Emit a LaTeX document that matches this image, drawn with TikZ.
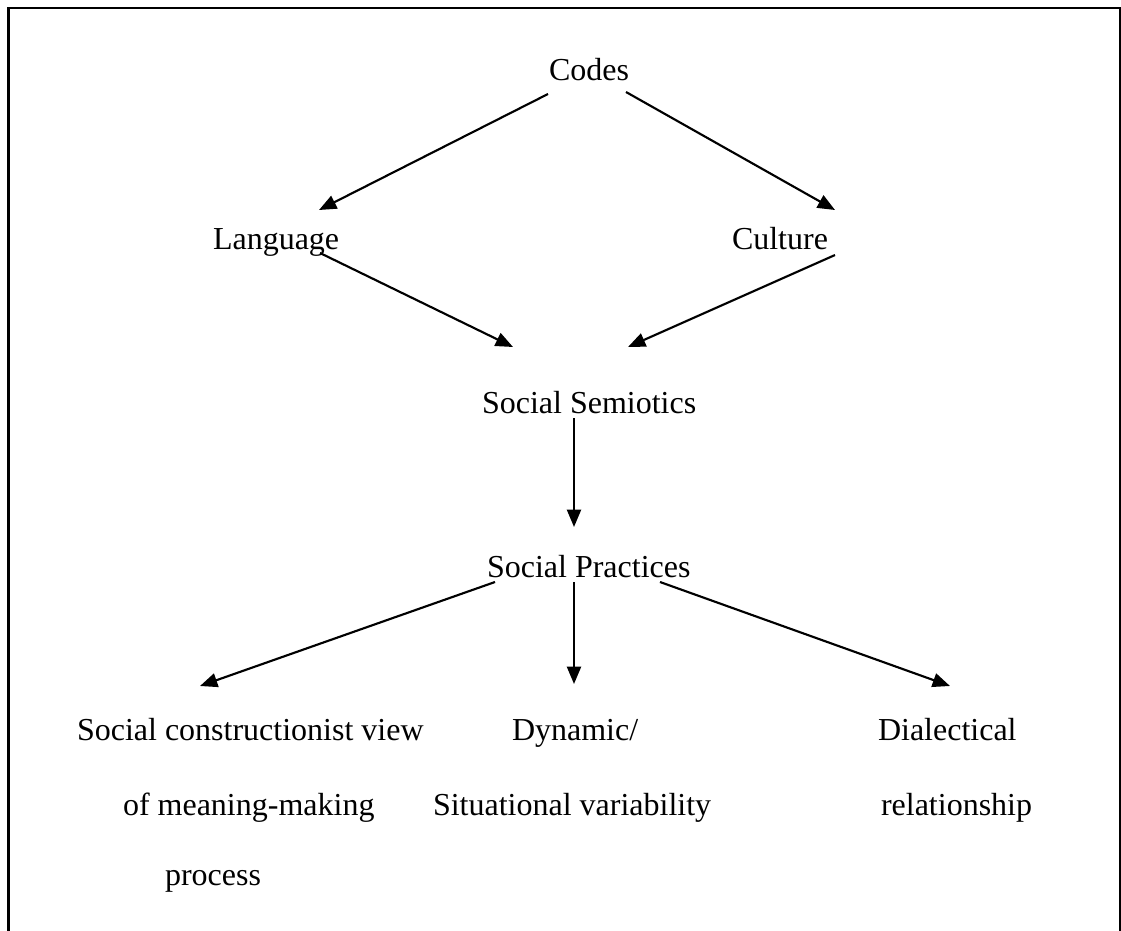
\documentclass[tikz,border=0pt]{standalone}
\usepackage{fontspec}
\setmainfont{Liberation Serif}
\usetikzlibrary{arrows.meta}
\tikzset{
  lbl/.style={inner sep=0pt, outer sep=0pt, anchor=base west, font=\fontsize{24}{28}\selectfont},
  arr/.style={line width=1.6pt, -{Triangle[length=13pt, width=10.5pt]}},
  frame/.style={line width=1.6pt}
}
\begin{document}
\begin{tikzpicture}[x=0.75pt, y=-0.75pt]
  \useasboundingbox (0,0) rectangle (1121,931);
  % open frame (no bottom edge)
  \draw[frame] (8.5,931) -- (8.5,8) -- (1120,8) -- (1120,931);

  % labels
  \node[lbl] (codes)   at (549,81)  {Codes};
  \node[lbl] (lang)    at (213,249) {Language};
  \node[lbl] (culture) at (732,249) {Culture};
  \node[lbl] (ss)      at (482,413) {Social Semiotics};
  \node[lbl] (sp)      at (487,577) {Social Practices};

  \node[lbl] (scv)  at (77,740)  {Social constructionist view};
  \node[lbl] (scvb) at (123,815) {of meaning-making};
  \node[lbl] (scvc) at (165,885) {process};

  \node[lbl] (dyn)  at (512,740) {Dynamic/};
  \node[lbl] (dynb) at (433,815) {Situational variability};

  \node[lbl] (dia)  at (878,740) {Dialectical};
  \node[lbl] (diab) at (881,815) {relationship};

  % connectors
  \draw[arr] ([shift={(-1,13)}]codes.base west) -- ([shift={(106,-39)}]lang.base west);
  \draw[arr] ([shift={(77,11)}]codes.base west) -- ([shift={(103,-39)}]culture.base west);
  \draw[arr] ([shift={(107,4)}]lang.base west) -- ([shift={(31,-66)}]ss.base west);
  \draw[arr] ([shift={(103,6)}]culture.base west) -- ([shift={(146,-66)}]ss.base west);
  \draw[arr] ([shift={(92,5)}]ss.base west) -- ([shift={(87,-50)}]sp.base west);
  \draw[arr] ([shift={(8,5)}]sp.base west) -- ([shift={(123,-54)}]scv.base west);
  \draw[arr] ([shift={(87,5)}]sp.base west) -- ([shift={(62,-56)}]dyn.base west);
  \draw[arr] ([shift={(173,5)}]sp.base west) -- ([shift={(72,-54)}]dia.base west);
\end{tikzpicture}
\end{document}
